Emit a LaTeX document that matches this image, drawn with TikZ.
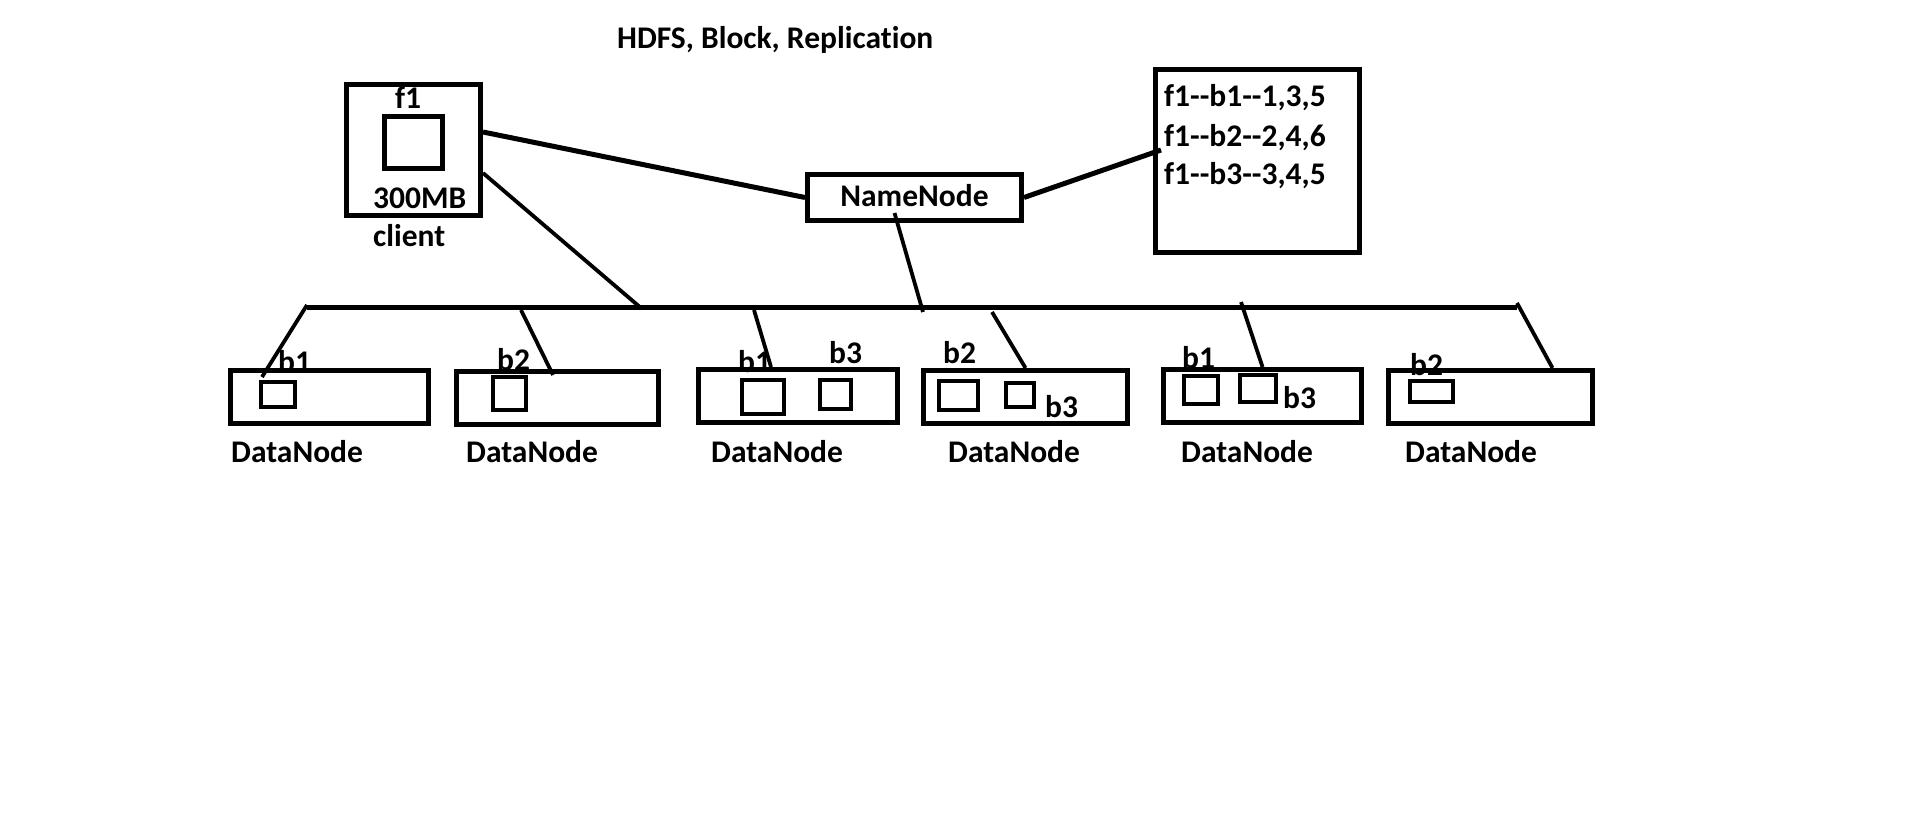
\documentclass[tikz,border=0pt]{standalone}
\usepackage{fontspec}
\setmainfont{Carlito}[Ligatures=NoCommon]
\usepackage{tikz}
\newcommand{\dd}{\mbox{-}\mbox{-}}

\begin{document}
\begin{tikzpicture}[x=1pt,y=-1pt,line join=miter,
		box/.style={draw,line width=5pt,inner sep=0pt},
		blk/.style={draw,line width=4.5pt,inner sep=0pt},
		lbl/.style={inner sep=0pt,anchor=base west,font=\fontsize{31.5}{38}\selectfont\bfseries},
		thin link/.style={line width=3.8pt},
		thick link/.style={line width=5pt}]
		
		\useasboundingbox (0,0) rectangle (1914,826);
		
		\node[lbl] (title) at (617,49) {HDFS, Block, Replication};
		
		% client with the file
		\node[box,minimum width=134pt,minimum height=131pt] (client) at (413.5,150) {};
		\node[blk,minimum width=58pt,minimum height=52pt] (file) at (413.5,142.5) {};
		\node[lbl] (fname) at (395,109) {f1};
		\node[lbl] (fsize) at (373,209) {300MB};
		\node[lbl] (cname) at (373,247) {client};
		
		% namenode and its table
		\node[box,minimum width=214pt,minimum height=46pt] (name) at (914.5,197.5) {};
		\node[lbl,anchor=center] (nname) at (914.5,196) {NameNode};
		\node[box,minimum width=204pt,minimum height=183pt] (meta) at (1257.5,161) {};
		\node[lbl] (row1) at (1164,107) {f1\dd b1\dd 1,3,5};
		\node[lbl] (row2) at (1164,147) {f1\dd b2\dd 2,4,6};
		\node[lbl] (row3) at (1164,185) {f1\dd b3\dd 3,4,5};
		
		% datanodes
		\node[box,minimum width=198pt,minimum height=53pt] (dn1) at (329.5,397) {};
		\node[box,minimum width=202pt,minimum height=53pt] (dn2) at (557.5,398) {};
		\node[box,minimum width=199pt,minimum height=53pt] (dn3) at (798,396) {};
		\node[box,minimum width=204pt,minimum height=53pt] (dn4) at (1025.5,397) {};
		\node[box,minimum width=198pt,minimum height=53pt] (dn5) at (1262.5,396) {};
		\node[box,minimum width=204pt,minimum height=53pt] (dn6) at (1490.5,397) {};
		
		\node[lbl] (dn1 name) at (231,462) {DataNode};
		\node[lbl] (dn2 name) at (466,462) {DataNode};
		\node[lbl] (dn3 name) at (711,462) {DataNode};
		\node[lbl] (dn4 name) at (948,462) {DataNode};
		\node[lbl] (dn5 name) at (1181,462) {DataNode};
		\node[lbl] (dn6 name) at (1405,462) {DataNode};
		
		% blocks
		\node[blk,minimum width=34pt,minimum height=25pt] (dn1 b1) at (278,394.5) {};
		\node[blk,minimum width=33pt,minimum height=33pt] (dn2 b2) at (509.5,393.5) {};
		\node[blk,minimum width=42pt,minimum height=34pt] (dn3 b1) at (763,397) {};
		\node[blk,minimum width=31pt,minimum height=29pt] (dn3 b3) at (835.5,394.5) {};
		\node[blk,minimum width=39pt,minimum height=29pt] (dn4 b2) at (958.5,395.5) {};
		\node[blk,minimum width=28pt,minimum height=24pt] (dn4 b3) at (1020,395) {};
		\node[blk,minimum width=34pt,minimum height=28pt] (dn5 b1) at (1201,390) {};
		\node[blk,minimum width=36pt,minimum height=27pt] (dn5 b3) at (1258,388.5) {};
		\node[blk,minimum width=43pt,minimum height=21pt] (dn6 b2) at (1431.5,391.5) {};
		
		\node[lbl] (t11) at (278,372) {b1};
		\node[lbl] (t22) at (497,370) {b2};
		\node[lbl] (t31) at (738,372) {b1};
		\node[lbl] (t33) at (829,363) {b3};
		\node[lbl] (t42) at (943,363) {b2};
		\node[lbl] (t43) at (1045,417) {b3};
		\node[lbl] (t51) at (1182,368) {b1};
		\node[lbl] (t53) at (1283,408) {b3};
		\node[lbl] (t62) at (1410,375) {b2};
		
		% the network
		\coordinate (bus west) at (307,308);
		\coordinate (bus east) at (1517,308);
		\coordinate (tap client) at (641,308);
		\coordinate (tap name) at (923,312);
		\coordinate (tap2) at (521,310);
		\coordinate (tap3) at (754,310);
		\coordinate (tap4) at (992,312);
		\coordinate (tap5) at (1241,302);
		
		\draw[thick link] (bus west) -- (bus east);
		\draw[thick link] ([yshift=18pt]client.east) -- (name.west);
		\draw[thick link] (name.east) -- ([shift={(8pt,11pt)}]meta.west);
		\draw[thin link] ([yshift=-23pt]client.east) -- (tap client);
		\draw[thin link] ([shift={(-20pt,10pt)}]name.south) -- (tap name);
		
		\draw[thin link] ([yshift=3pt]bus west) -- ([shift={(34pt,-9pt)}]dn1.north west);
		\draw[thin link] (tap2) -- ([shift={(99pt,-6pt)}]dn2.north west);
		\draw[thin link] (tap3) -- ([xshift=-27pt]dn3.north);
		\draw[thin link] (tap4) -- (dn4.north);
		\draw[thin link] (tap5) -- (dn5.north);
		\draw[thin link] ([yshift=5pt]bus east) -- ([xshift=62pt]dn6.north);
		
	\end{tikzpicture}
\end{document}
